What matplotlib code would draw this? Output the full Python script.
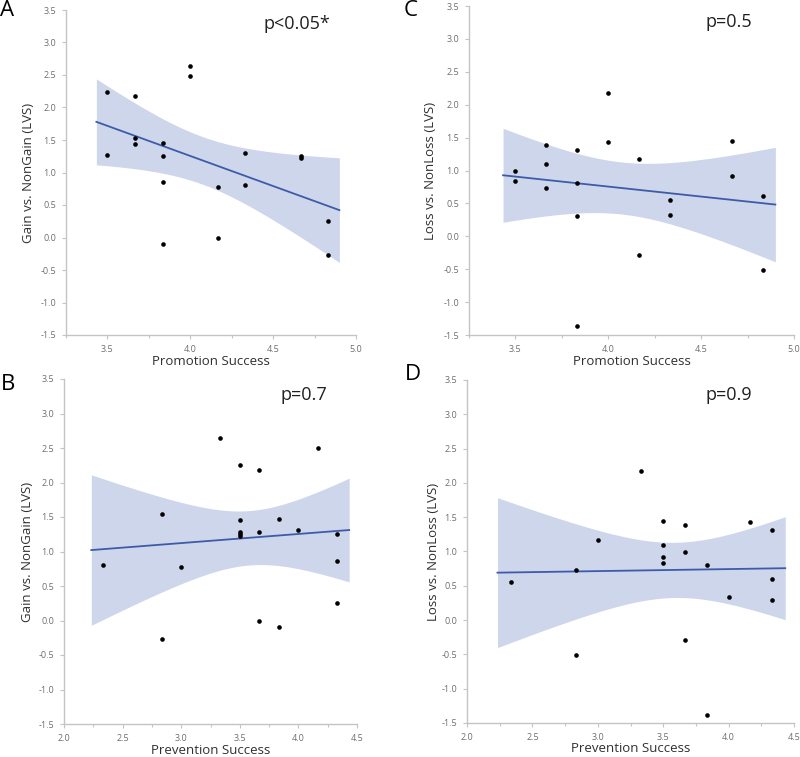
"""Four-panel scatter: regulatory-focus success vs. LVS contrasts, with OLS fit and 95% CI."""
import matplotlib
matplotlib.use("Agg")
import matplotlib.pyplot as plt
import numpy as np
from matplotlib.ticker import MultipleLocator, FormatStrFormatter

plt.rcParams["font.family"] = ["Open Sans", "DejaVu Sans"]

# Panel A: promotion success vs gain
PROMO_A = [3.5, 3.5, 3.667, 3.667, 3.667, 3.833, 3.833, 3.833, 3.833, 4.0, 4.0,
           4.167, 4.167, 4.333, 4.333, 4.667, 4.667, 4.833, 4.833]
GAIN_A = [2.24, 1.27, 2.17, 1.53, 1.44, 1.46, 1.25, 0.86, -0.10, 2.64, 2.49,
          0.77, 0.0, 1.30, 0.81, 1.26, 1.22, 0.26, -0.27]

# Panel B: prevention success vs gain
PREV_B = [2.333, 2.833, 2.833, 3.0, 3.333, 3.5, 3.5, 3.5, 3.5, 3.5, 3.667,
          3.667, 3.667, 3.833, 3.833, 4.0, 4.167, 4.333, 4.333, 4.333]
GAIN_B = [0.81, 1.54, -0.27, 0.77, 2.65, 2.25, 1.45, 1.28, 1.25, 1.23, 2.18,
          1.28, 0.0, 1.47, -0.10, 1.31, 2.50, 1.26, 0.86, 0.26]

# Panel C: promotion success vs loss
PROMO_C = [3.5, 3.5, 3.667, 3.667, 3.667, 3.833, 3.833, 3.833, 3.833, 4.0, 4.0,
           4.167, 4.167, 4.333, 4.333, 4.667, 4.667, 4.833, 4.833]
LOSS_C = [0.99, 0.84, 1.38, 1.10, 0.73, 1.31, 0.81, 0.31, -1.37, 2.18, 1.43,
          1.17, -0.28, 0.55, 0.33, 1.45, 0.92, 0.61, -0.51]

# Panel D: prevention success vs loss
PREV_D = [2.333, 2.833, 2.833, 3.0, 3.333, 3.5, 3.5, 3.5, 3.5, 3.667, 3.667,
          3.667, 3.833, 3.833, 4.0, 4.167, 4.333, 4.333, 4.333]
LOSS_D = [0.55, 0.73, -0.51, 1.17, 2.18, 1.45, 1.10, 0.92, 0.83, 1.38, 0.99,
          -0.29, 0.81, -1.38, 0.33, 1.43, 1.31, 0.60, 0.30]

P_TEXT = {"A": "p<0.05*", "B": "p=0.7", "C": "p=0.5", "D": "p=0.9"}

LINE_COLOR = "#3d5ba8"
BAND_COLOR = "#cdd6ea"
SPINE_COLOR = "#c4c4c4"
TICK_COLOR = "#6e6e6e"
LABEL_COLOR = "#303030"


def t_crit(df, conf=0.975):
    """Student t quantile via numeric integration of the (unnormalised) pdf."""
    t = np.linspace(-60, 60, 600001)
    pdf = (1 + t ** 2 / df) ** (-(df + 1) / 2)
    cdf = np.cumsum(pdf)
    cdf /= cdf[-1]
    return float(np.interp(conf, cdf, t))


def fit_band(x, y):
    x = np.asarray(x, float)
    y = np.asarray(y, float)
    n = len(x)
    b, a = np.polyfit(x, y, 1)
    resid = y - (a + b * x)
    s = np.sqrt(np.sum(resid ** 2) / (n - 2))
    pad = 0.05 * (x.max() - x.min())
    xs = np.linspace(x.min() - pad, x.max() + pad, 200)
    yhat = a + b * xs
    se = s * np.sqrt(1 / n + (xs - x.mean()) ** 2 / np.sum((x - x.mean()) ** 2))
    tc = t_crit(n - 2)
    return xs, yhat, yhat - tc * se, yhat + tc * se


def draw_panel(fig, rect, x, y, xlim, xlabel, ylabel, letter, letter_xy, ylab_x):
    ax = fig.add_axes(rect)
    xs, yhat, lo, hi = fit_band(x, y)
    ax.fill_between(xs, lo, hi, color=BAND_COLOR, lw=0, zorder=1)
    ax.plot(xs, yhat, color=LINE_COLOR, lw=1.3, zorder=2)
    ax.scatter(x, y, s=11, color="black", zorder=3, lw=0)
    ax.set_xlim(*xlim)
    ax.set_ylim(-1.5, 3.5)
    ax.xaxis.set_major_locator(MultipleLocator(0.5))
    ax.xaxis.set_minor_locator(MultipleLocator(0.25))
    ax.yaxis.set_major_locator(MultipleLocator(0.5))
    ax.xaxis.set_major_formatter(FormatStrFormatter("%.1f"))
    ax.yaxis.set_major_formatter(FormatStrFormatter("%.1f"))
    for side in ("top", "right"):
        ax.spines[side].set_visible(False)
    for side in ("left", "bottom"):
        ax.spines[side].set_color(SPINE_COLOR)
        ax.spines[side].set_linewidth(1.0)
    ax.tick_params(which="both", colors=SPINE_COLOR, labelcolor=TICK_COLOR,
                   labelsize=6.5, length=3, width=0.8, pad=4)
    ax.tick_params(which="minor", length=2)
    ax.set_xlabel(xlabel, fontsize=9.5, color=LABEL_COLOR, va="center")
    ax.set_ylabel(ylabel, fontsize=9.5, color=LABEL_COLOR, va="center")
    h_px = rect[3] * H
    ax.xaxis.set_label_coords(0.5, -26 / h_px)
    ax.yaxis.set_label_coords(ylab_x, 0.5)
    fig.text(letter_xy[0], letter_xy[1], letter, fontsize=16, color="black",
             ha="left", va="center")
    return ax


fig = plt.figure(figsize=(8.0, 7.57), dpi=100)
W, H = 800.0, 757.0


def rect(left, top, right, bottom):
    return [left / W, 1 - bottom / H, (right - left) / W, (bottom - top) / H]


ax_a = draw_panel(fig, rect(66, 10, 356, 335), PROMO_A, GAIN_A, (3.25, 5.0),
                  "Promotion Success", "Gain vs. NonGain (LVS)", "A",
                  (0 / W, 1 - 11 / H), -0.128)
ax_c = draw_panel(fig, rect(469, 6, 794, 335), PROMO_C, LOSS_C, (3.25, 5.0),
                  "Promotion Success", "Loss vs. NonLoss (LVS)", "C",
                  (404 / W, 1 - 11 / H), -0.12)
ax_b = draw_panel(fig, rect(64, 379, 357, 724), PREV_B, GAIN_B, (2.0, 4.5),
                  "Prevention Success", "Gain vs. NonGain (LVS)", "B",
                  (1 / W, 1 - 385 / H), -0.124)
ax_d = draw_panel(fig, rect(467, 380, 794, 723), PREV_D, LOSS_D, (2.0, 4.5),
                  "Prevention Success", "Loss vs. NonLoss (LVS)", "D",
                  (405 / W, 1 - 375 / H), -0.103)

for ax, key, xy in [(ax_a, "A", (297, 24)), (ax_c, "C", (729, 22)),
                    (ax_b, "B", (304, 395)), (ax_d, "D", (729, 395))]:
    fig.text(xy[0] / W, 1 - xy[1] / H, P_TEXT[key], fontsize=13,
             color="#202020", ha="center", va="center")

fig.savefig("out.png", dpi=100)
